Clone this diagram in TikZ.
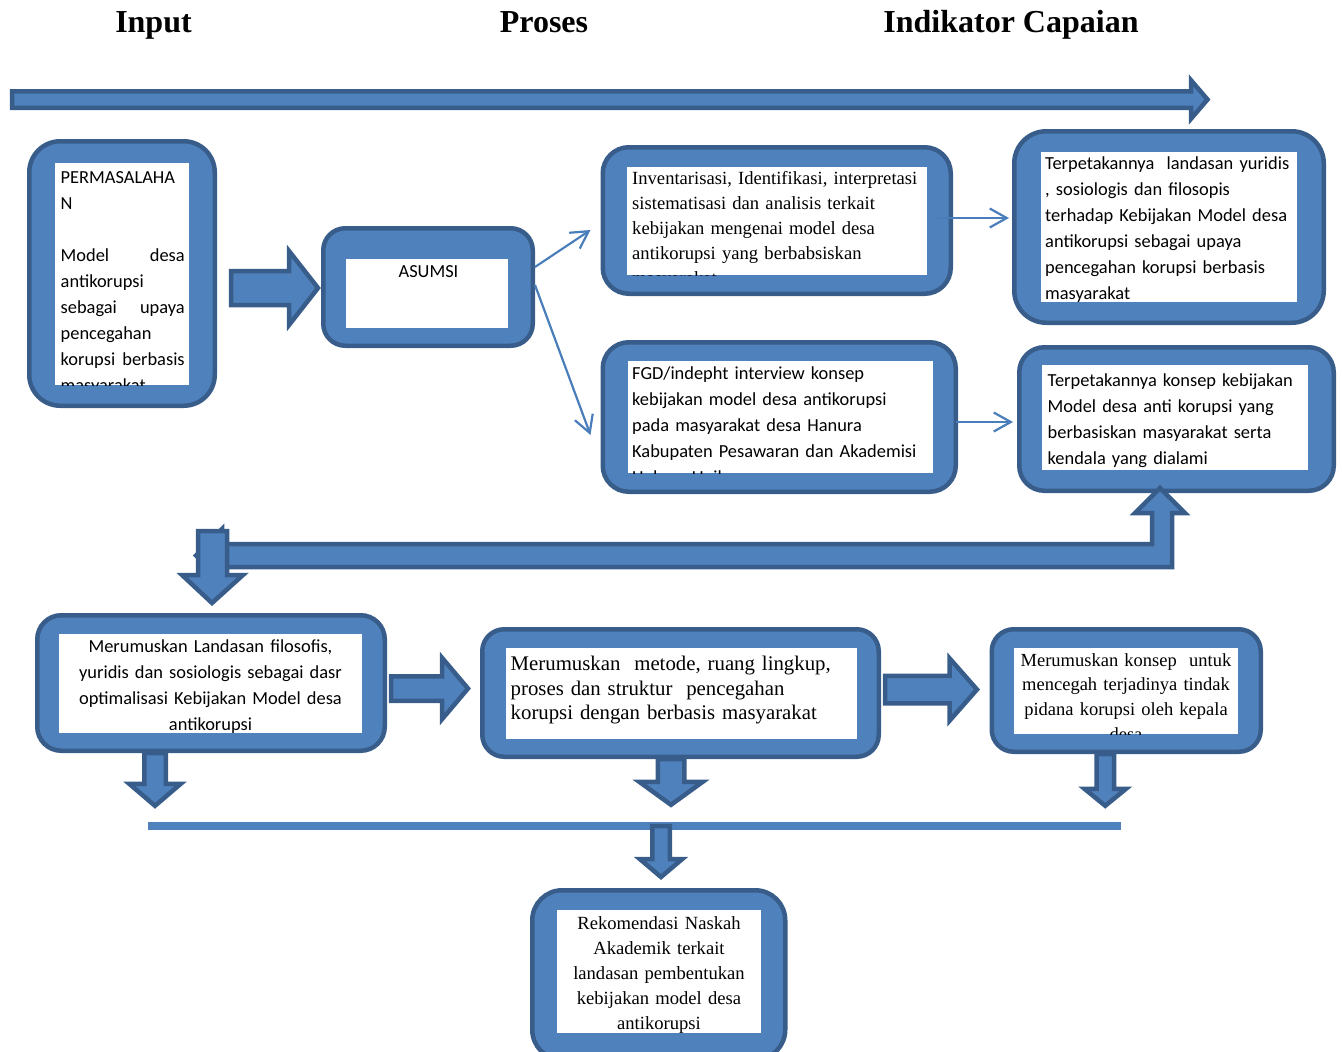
\documentclass[tikz,border=0pt]{standalone}
\usepackage{fontspec}
\setmainfont{Liberation Serif}
\newfontfamily\carlito{Carlito}
\usetikzlibrary{arrows.meta,calc}
\definecolor{myBlue}{HTML}{4F81BD}
\definecolor{myDark}{HTML}{385D8A}
\definecolor{myLine}{HTML}{4A7EBB}
\newcommand\fontC{\carlito\fontsize{18.4pt}{26pt}\selectfont}
\newcommand\fontT{\fontsize{18.6pt}{25pt}\selectfont}
\newcommand\fontM{\fontsize{20.8pt}{24.5pt}\selectfont}
\newcommand\fontK{\fontsize{18.5pt}{24.7pt}\selectfont}
% block arrows: from, to, half shaft, half head, head length
\newcommand\rblk[5]{\draw[A] let \p1=#1, \p2=#2 in (\x1,\y1+#3) -- (\x2-#5,\y1+#3) -- (\x2-#5,\y1+#4) -- (\x2,\y1) -- (\x2-#5,\y1-#4) -- (\x2-#5,\y1-#3) -- (\x1,\y1-#3) -- cycle;}
\newcommand\dblk[5]{\draw[A] let \p1=#1, \p2=#2 in (\x1-#3,\y1) -- (\x1-#3,\y2+#5) -- (\x1-#4,\y2+#5) -- (\x1,\y2) -- (\x1+#4,\y2+#5) -- (\x1+#3,\y2+#5) -- (\x1+#3,\y1) -- cycle;}

\begin{document}
\begin{tikzpicture}[x=1pt, y=-1pt, line join=miter]
  \tikzstyle{R}=[rounded corners=25pt, fill=myBlue, draw=myDark, line width=4.5pt, inner sep=0pt]
  \tikzstyle{W}=[fill=white, inner sep=0pt]
  \tikzstyle{A}=[fill=myBlue, draw=myDark, line width=4.5pt]
  \tikzstyle{C}=[inner sep=0pt, font=\fontC]
  \tikzstyle{T}=[inner sep=0pt, font=\fontT]
  \tikzstyle{L}=[draw=myLine, line width=2.2pt, -{Straight Barb[length=17pt, width=19pt]}]
  \tikzstyle{H}=[inner sep=0pt, font=\bfseries\fontsize{32pt}{36pt}\selectfont]

  \clip (0,0) rectangle (1342,1052);

  \node[H, anchor=base] at (153.5,32) (hin) {Input};
  \node[H, anchor=base] at (544,32) (hpr) {Proses};
  \node[H, anchor=base] at (1011,32) (hic) {Indikator Capaian};

  \coordinate (s0) at (12,99.5);
  \coordinate (e0) at (1207.5,99.5);
  \rblk{(s0)}{(e0)}{8.25pt}{19.25pt}{16.5pt}

  % input
  \node[R, rounded corners=31pt, minimum width=185.5pt, minimum height=264.5pt] at (122,273.5) (b1) {};
  \node[W, minimum width=134pt, minimum height=222pt, path picture={
    \node[C, anchor=north west, text width=124pt, align=left] at ([shift={(0.5pt,-1.8pt)}]path picture bounding box.north west) (b1t)
      {\strut PERMASALAHA\\N\\\mbox{}\\Model\hfill desa\\antikorupsi\\sebagai\hfill upaya\\pencegahan\\korupsi\hfill berbasis\\masyarakat};}] at (122,274) (b1w) {};

  \node[R, rounded corners=22pt, minimum width=209.5pt, minimum height=117.5pt] at (428,287) (as) {};
  \node[W, minimum width=162pt, minimum height=69pt] at (427,293.5) (asw) {};
  \node[C, anchor=base] at ([shift={(1.5pt,-19pt)}]asw.north) (ast) {ASUMSI};

  % proses
  \node[R, rounded corners=26pt, minimum width=348pt, minimum height=146.5pt] at (776.75,220.5) (inv) {};
  \node[W, minimum width=300pt, minimum height=108pt, path picture={
    \node[T, anchor=north west, text width=300pt, align=left] at ([shift={(5pt,0.5pt)}]path picture bounding box.north west) (invt)
      {\strut Inventarisasi, Identifikasi, interpretasi\\sistematisasi dan analisis terkait\\kebijakan mengenai model desa\\antikorupsi yang berbabsiskan\\masyarakat};}] at (777,221) (invw) {};

  \node[R, rounded corners=26pt, minimum width=353pt, minimum height=149.5pt] at (779.25,417) (fgd) {};
  \node[W, minimum width=305pt, minimum height=112pt, path picture={
    \node[C, anchor=north west, text width=310pt, align=left] at ([shift={(4pt,0.2pt)}]path picture bounding box.north west) (fgdt)
      {\strut FGD/indepht interview konsep\\kebijakan model desa antikorupsi\\pada masyarakat desa Hanura\\Kabupaten Pesawaran dan Akademisi\\Hukum Unila};}] at (780.5,417) (fgdw) {};

  % indikator
  \node[R, rounded corners=32pt, minimum width=309.5pt, minimum height=191.5pt] at (1169,227) (t1) {};
  \node[W, minimum width=256pt, minimum height=150pt, path picture={
    \node[C, anchor=north west, text width=260pt, align=left] at ([shift={(4pt,1.2pt)}]path picture bounding box.north west) (t1t)
      {\strut Terpetakannya\ \ landasan yuridis\\, sosiologis dan filosopis\\terhadap Kebijakan Model desa\\antikorupsi sebagai upaya\\pencegahan korupsi berbasis\\masyarakat};}] at (1169,227) (t1w) {};

  \node[R, rounded corners=25pt, minimum width=314.5pt, minimum height=143.5pt] at (1176.5,419) (t2) {};
  \node[W, minimum width=266pt, minimum height=105pt, path picture={
    \node[C, anchor=north west, text width=265pt, align=left] at ([shift={(5pt,0.2pt)}]path picture bounding box.north west) (t2t)
      {\strut Terpetakannya konsep kebijakan\\Model desa anti korupsi yang\\berbasiskan masyarakat serta\\kendala yang dialami};}] at (1175,417.5) (t2w) {};

  % perumusan
  \node[R, rounded corners=24pt, minimum width=347.5pt, minimum height=135.5pt] at (211,683) (land) {};
  \node[W, minimum width=303pt, minimum height=99pt, path picture={
    \node[C, anchor=north, text width=303pt, align=center] at ([yshift=0.2pt]path picture bounding box.north) (landt)
      {\strut Merumuskan Landasan filosofis,\\yuridis dan sosiologis sebagai dasr\\optimalisasi Kebijakan Model desa\\antikorupsi};}] at (210.5,683.5) (landw) {};

  \node[R, rounded corners=22pt, minimum width=396.5pt, minimum height=127.5pt] at (680.5,693) (met) {};
  \node[W, minimum width=351pt, minimum height=91pt, path picture={
    \node[T, font=\fontM, anchor=north west, text width=350pt, align=left] at ([shift={(4.5pt,5pt)}]path picture bounding box.north west) (mett)
      {\strut Merumuskan\ \ metode, ruang lingkup,\\proses dan struktur\ \ pencegahan\\korupsi dengan berbasis masyarakat};}] at (681,693.5) (metw) {};

  \node[R, rounded corners=22pt, minimum width=269pt, minimum height=122.5pt] at (1126.25,690.5) (kon) {};
  \node[W, minimum width=224pt, minimum height=86pt, path picture={
    \node[T, font=\fontK, anchor=north, text width=224pt, align=center] at ([yshift=-0.7pt]path picture bounding box.north) (kont)
      {\strut Merumuskan konsep\ \ untuk\\mencegah terjadinya tindak\\pidana korupsi oleh kepala\\desa};}] at (1126,691) (konw) {};

  \node[fill=myBlue, inner sep=0pt, minimum width=973pt, minimum height=8pt] at (634.5,826) (bar) {};

  \node[R, rounded corners=30pt, minimum width=253pt, minimum height=169.5pt] at (658.75,975) (bot) {};
  \node[W, minimum width=204pt, minimum height=123pt, path picture={
    \node[T, anchor=north, text width=204pt, align=center] at ([yshift=-0.6pt]path picture bounding box.north) (bott)
      {\strut Rekomendasi Naskah\\Akademik terkait\\landasan pembentukan\\kebijakan model desa\\antikorupsi};}] at (659,971.5) (botw) {};

  % thin arrows
  \draw[L] ([yshift=20pt]as.east) -- ([shift={(-10pt,-9.5pt)}]inv.west);
  \draw[L] ([yshift=2pt]as.east) -- ([shift={(-10pt,-18pt)}]fgd.west);
  \draw[L] ([shift={(-18pt,2.5pt)}]inv.east) -- ([shift={(-3pt,9pt)}]t1.west);
  \draw[L] ([shift={(-2pt,-5pt)}]fgd.east) -- ([shift={(-4pt,-3pt)}]t2.west);

  % block arrows
  \rblk{([shift={(14pt,-14.5pt)}]b1.east)}{([xshift=-3pt]as.west)}{17pt}{37pt}{29pt}
  \rblk{([shift={(4pt,-5.5pt)}]land.east)}{([xshift=-12pt]met.west)}{12.25pt}{30.75pt}{26pt}
  \rblk{([shift={(4pt,3.5pt)}]met.east)}{([xshift=-12.5pt]kon.west)}{13.75pt}{31.25pt}{27.5pt}
  \dblk{([xshift=-56pt]land.south)}{([yshift=16pt]bar.north)}{10.75pt}{25.75pt}{22pt}
  \dblk{([xshift=-9.5pt]met.south)}{([yshift=17pt]bar.north)}{13.25pt}{31.75pt}{23pt}
  \dblk{([xshift=-21pt]kon.south)}{([yshift=16pt]bar.north)}{8.75pt}{20.75pt}{17pt}
  \dblk{([xshift=26.5pt]bar.center)}{([yshift=11pt]bot.north)}{8.75pt}{21.25pt}{18pt}

  \coordinate (up) at ([shift={(-16.5pt,5pt)}]t2.south);
  \coordinate (dn) at ([shift={(1pt,10pt)}]land.north);
  \draw[A] (up) -- ++(25,25) -- ++(-13,0) -- ++(0,54) -- ++(-950,0) -- ++(0,15) -- ++(-26,-26.5)
    -- ++(26,-26.5) -- ++(0,15) -- ++(930,0) -- ++(0,-31) -- ++(-17,0) -- cycle;
  \draw[A] (dn) -- ++(31,-28) -- ++(-16,0) -- ++(0,-44) -- ++(-29,0) -- ++(0,44) -- ++(-16,0) -- cycle;
\end{tikzpicture}
\end{document}
